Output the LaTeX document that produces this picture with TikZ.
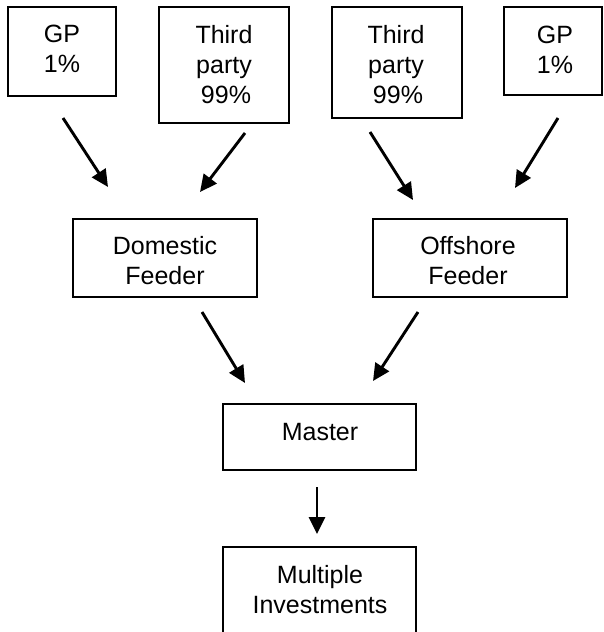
\documentclass[tikz,border=0pt]{standalone}
\usepackage{fontspec}
\setmainfont{Liberation Sans}
\usetikzlibrary{arrows.meta}
\begin{document}
\begin{tikzpicture}[x=1pt,y=-1pt,
  boxnode/.style={draw=black,line width=1.6pt,rectangle,inner sep=0pt},
  txt/.style={anchor=north,inner sep=0pt,align=center,font=\fontsize{25}{30}\selectfont},
  arr/.style={line width=2.9pt,-{Triangle[length=17pt,width=16pt]}}]
\useasboundingbox (0,0) rectangle (603,632);
\clip (0,0) rectangle (603,632);
% boxes
\node[boxnode,minimum width=108pt,minimum height=89pt] (gpa) at (62,51.5) {};
\node[boxnode,minimum width=130pt,minimum height=116pt] (tpa) at (224,65) {};
\node[boxnode,minimum width=130pt,minimum height=111pt] (tpb) at (397,62.5) {};
\node[boxnode,minimum width=98pt,minimum height=88pt] (gpb) at (553,51) {};
\node[boxnode,minimum width=184pt,minimum height=78pt] (dom) at (165,258) {};
\node[boxnode,minimum width=194pt,minimum height=78pt] (off) at (470,258) {};
\node[boxnode,minimum width=193pt,minimum height=66pt] (mas) at (319.5,437) {};
\node[boxnode,minimum width=193pt,minimum height=100pt] (mul) at (319.5,597) {};
% texts
\node[txt] (tgpa) at (62,25) {GP\\1\%};
\node[txt] (ttpa) at (224,25) {Third\\party\\\hspace*{4pt}99\%};
\node[txt] (ttpb) at (396,25) {Third\\party\\\hspace*{4pt}99\%};
\node[txt] (tgpb) at (555,26) {GP\\1\%};
\node[txt] (tdom) at (165,236) {Domestic\\Feeder};
\node[txt] (toff) at (468,236) {Offshore\\Feeder};
\node[txt] (tmas) at (320,423) {Master};
\node[txt] (tmul) at (320,565) {Multiple\\Investments};
% arrow end points
\coordinate (a1s) at (63,118);  \coordinate (a1e) at (108,187);
\coordinate (a2s) at (245,133); \coordinate (a2e) at (200,192);
\coordinate (a3s) at (370,132); \coordinate (a3e) at (413,200);
\coordinate (a4s) at (558,118); \coordinate (a4e) at (515,188);
\coordinate (a5s) at (202,312); \coordinate (a5e) at (245,383);
\coordinate (a6s) at (418,312); \coordinate (a6e) at (373,381);
\coordinate (a7s) at (317,487); \coordinate (a7e) at (317,534);
\draw[arr] (a1s) -- (a1e);
\draw[arr] (a2s) -- (a2e);
\draw[arr] (a3s) -- (a3e);
\draw[arr] (a4s) -- (a4e);
\draw[arr] (a5s) -- (a5e);
\draw[arr] (a6s) -- (a6e);
\draw[arr] (a7s) -- (a7e);
\end{tikzpicture}
\end{document}
